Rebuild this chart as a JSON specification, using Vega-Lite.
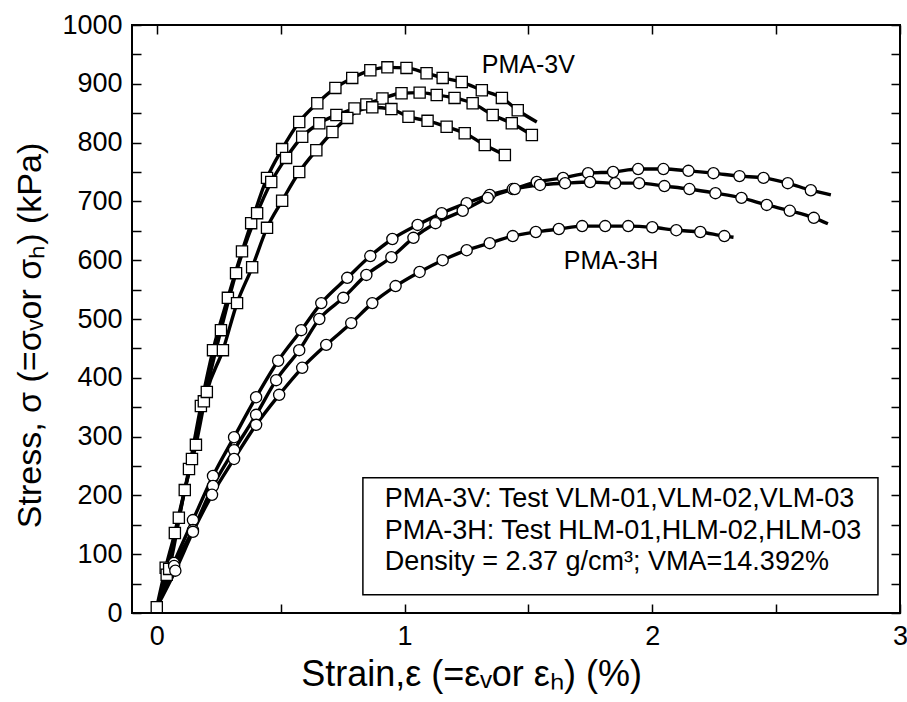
{
  "$schema": "https://vega.github.io/schema/vega-lite/v6.json",
  "width": 768,
  "height": 588,
  "autosize": "none",
  "padding": {"left": 132, "top": 25, "right": 7, "bottom": 89},
  "background": "white",
  "config": {
    "font": "Liberation Sans",
    "view": {"stroke": "black", "strokeWidth": 2},
    "axis": {
      "grid": false,
      "domain": false,
      "tickColor": "black",
      "tickWidth": 1.5,
      "tickSize": -9,
      "labelFontSize": 27,
      "labelColor": "black",
      "labelPadding": 19,
      "labelFlush": false,
      "titleFontSize": 33,
      "titleFontWeight": "normal",
      "titleColor": "black"
    }
  },
  "datasets": {
    "curves": [
      {"test": "VLM-01", "strain": 0, "stress": 10},
      {"test": "VLM-01", "strain": 0.036, "stress": 77},
      {"test": "VLM-01", "strain": 0.089, "stress": 162},
      {"test": "VLM-01", "strain": 0.13, "stress": 245},
      {"test": "VLM-01", "strain": 0.178, "stress": 352},
      {"test": "VLM-01", "strain": 0.227, "stress": 447},
      {"test": "VLM-01", "strain": 0.287, "stress": 536},
      {"test": "VLM-01", "strain": 0.344, "stress": 615},
      {"test": "VLM-01", "strain": 0.381, "stress": 663},
      {"test": "VLM-01", "strain": 0.445, "stress": 740},
      {"test": "VLM-01", "strain": 0.506, "stress": 789},
      {"test": "VLM-01", "strain": 0.575, "stress": 835},
      {"test": "VLM-01", "strain": 0.648, "stress": 867},
      {"test": "VLM-01", "strain": 0.721, "stress": 893},
      {"test": "VLM-01", "strain": 0.789, "stress": 910},
      {"test": "VLM-01", "strain": 0.862, "stress": 923},
      {"test": "VLM-01", "strain": 0.931, "stress": 928},
      {"test": "VLM-01", "strain": 1.008, "stress": 927},
      {"test": "VLM-01", "strain": 1.089, "stress": 918},
      {"test": "VLM-01", "strain": 1.154, "stress": 910},
      {"test": "VLM-01", "strain": 1.231, "stress": 903},
      {"test": "VLM-01", "strain": 1.312, "stress": 889},
      {"test": "VLM-01", "strain": 1.393, "stress": 876},
      {"test": "VLM-01", "strain": 1.457, "stress": 855},
      {"test": "VLM-01", "strain": 1.534, "stress": 835},
      {"test": "VLM-02", "strain": 0, "stress": 10},
      {"test": "VLM-02", "strain": 0.04, "stress": 65},
      {"test": "VLM-02", "strain": 0.073, "stress": 136},
      {"test": "VLM-02", "strain": 0.142, "stress": 262},
      {"test": "VLM-02", "strain": 0.19, "stress": 360},
      {"test": "VLM-02", "strain": 0.259, "stress": 481},
      {"test": "VLM-02", "strain": 0.32, "stress": 578},
      {"test": "VLM-02", "strain": 0.405, "stress": 680},
      {"test": "VLM-02", "strain": 0.462, "stress": 733},
      {"test": "VLM-02", "strain": 0.522, "stress": 774},
      {"test": "VLM-02", "strain": 0.587, "stress": 810},
      {"test": "VLM-02", "strain": 0.656, "stress": 833},
      {"test": "VLM-02", "strain": 0.725, "stress": 847},
      {"test": "VLM-02", "strain": 0.798, "stress": 858},
      {"test": "VLM-02", "strain": 0.846, "stress": 865},
      {"test": "VLM-02", "strain": 0.911, "stress": 875},
      {"test": "VLM-02", "strain": 0.988, "stress": 884},
      {"test": "VLM-02", "strain": 1.061, "stress": 885},
      {"test": "VLM-02", "strain": 1.13, "stress": 881},
      {"test": "VLM-02", "strain": 1.202, "stress": 876},
      {"test": "VLM-02", "strain": 1.275, "stress": 867},
      {"test": "VLM-02", "strain": 1.356, "stress": 847},
      {"test": "VLM-02", "strain": 1.433, "stress": 833},
      {"test": "VLM-02", "strain": 1.514, "stress": 813},
      {"test": "VLM-02", "strain": 1.535, "stress": 808},
      {"test": "VLM-03", "strain": 0, "stress": 10},
      {"test": "VLM-03", "strain": 0.05, "stress": 75},
      {"test": "VLM-03", "strain": 0.113, "stress": 209},
      {"test": "VLM-03", "strain": 0.158, "stress": 286},
      {"test": "VLM-03", "strain": 0.202, "stress": 376},
      {"test": "VLM-03", "strain": 0.267, "stress": 447},
      {"test": "VLM-03", "strain": 0.324, "stress": 527},
      {"test": "VLM-03", "strain": 0.385, "stress": 588},
      {"test": "VLM-03", "strain": 0.445, "stress": 655},
      {"test": "VLM-03", "strain": 0.506, "stress": 701},
      {"test": "VLM-03", "strain": 0.575, "stress": 750},
      {"test": "VLM-03", "strain": 0.644, "stress": 787},
      {"test": "VLM-03", "strain": 0.709, "stress": 818},
      {"test": "VLM-03", "strain": 0.769, "stress": 842},
      {"test": "VLM-03", "strain": 0.87, "stress": 860},
      {"test": "VLM-03", "strain": 0.947, "stress": 857},
      {"test": "VLM-03", "strain": 1.016, "stress": 844},
      {"test": "VLM-03", "strain": 1.093, "stress": 837},
      {"test": "VLM-03", "strain": 1.17, "stress": 827},
      {"test": "VLM-03", "strain": 1.243, "stress": 816},
      {"test": "VLM-03", "strain": 1.324, "stress": 796},
      {"test": "VLM-03", "strain": 1.405, "stress": 779},
      {"test": "HLM-01", "strain": 0, "stress": 10},
      {"test": "HLM-01", "strain": 0.069, "stress": 85},
      {"test": "HLM-01", "strain": 0.146, "stress": 158},
      {"test": "HLM-01", "strain": 0.227, "stress": 233},
      {"test": "HLM-01", "strain": 0.312, "stress": 299},
      {"test": "HLM-01", "strain": 0.401, "stress": 367},
      {"test": "HLM-01", "strain": 0.49, "stress": 429},
      {"test": "HLM-01", "strain": 0.583, "stress": 481},
      {"test": "HLM-01", "strain": 0.664, "stress": 527},
      {"test": "HLM-01", "strain": 0.769, "stress": 570},
      {"test": "HLM-01", "strain": 0.862, "stress": 607},
      {"test": "HLM-01", "strain": 0.951, "stress": 636},
      {"test": "HLM-01", "strain": 1.053, "stress": 660},
      {"test": "HLM-01", "strain": 1.15, "stress": 680},
      {"test": "HLM-01", "strain": 1.251, "stress": 697},
      {"test": "HLM-01", "strain": 1.344, "stress": 711},
      {"test": "HLM-01", "strain": 1.437, "stress": 721},
      {"test": "HLM-01", "strain": 1.534, "stress": 733},
      {"test": "HLM-01", "strain": 1.64, "stress": 740},
      {"test": "HLM-01", "strain": 1.741, "stress": 748},
      {"test": "HLM-01", "strain": 1.842, "stress": 750},
      {"test": "HLM-01", "strain": 1.943, "stress": 755},
      {"test": "HLM-01", "strain": 2.045, "stress": 755},
      {"test": "HLM-01", "strain": 2.146, "stress": 752},
      {"test": "HLM-01", "strain": 2.247, "stress": 748},
      {"test": "HLM-01", "strain": 2.352, "stress": 743},
      {"test": "HLM-01", "strain": 2.449, "stress": 740},
      {"test": "HLM-01", "strain": 2.547, "stress": 731},
      {"test": "HLM-01", "strain": 2.64, "stress": 719},
      {"test": "HLM-01", "strain": 2.721, "stress": 711},
      {"test": "HLM-02", "strain": 0, "stress": 10},
      {"test": "HLM-02", "strain": 0.07, "stress": 80},
      {"test": "HLM-02", "strain": 0.146, "stress": 141},
      {"test": "HLM-02", "strain": 0.227, "stress": 216},
      {"test": "HLM-02", "strain": 0.312, "stress": 277},
      {"test": "HLM-02", "strain": 0.401, "stress": 337},
      {"test": "HLM-02", "strain": 0.482, "stress": 396},
      {"test": "HLM-02", "strain": 0.575, "stress": 447},
      {"test": "HLM-02", "strain": 0.656, "stress": 500},
      {"test": "HLM-02", "strain": 0.753, "stress": 536},
      {"test": "HLM-02", "strain": 0.846, "stress": 575},
      {"test": "HLM-02", "strain": 0.947, "stress": 605},
      {"test": "HLM-02", "strain": 1.036, "stress": 638},
      {"test": "HLM-02", "strain": 1.125, "stress": 663},
      {"test": "HLM-02", "strain": 1.235, "stress": 684},
      {"test": "HLM-02", "strain": 1.336, "stress": 706},
      {"test": "HLM-02", "strain": 1.445, "stress": 721},
      {"test": "HLM-02", "strain": 1.547, "stress": 728},
      {"test": "HLM-02", "strain": 1.648, "stress": 731},
      {"test": "HLM-02", "strain": 1.749, "stress": 733},
      {"test": "HLM-02", "strain": 1.85, "stress": 731},
      {"test": "HLM-02", "strain": 1.947, "stress": 731},
      {"test": "HLM-02", "strain": 2.049, "stress": 726},
      {"test": "HLM-02", "strain": 2.15, "stress": 721},
      {"test": "HLM-02", "strain": 2.255, "stress": 714},
      {"test": "HLM-02", "strain": 2.36, "stress": 706},
      {"test": "HLM-02", "strain": 2.462, "stress": 694},
      {"test": "HLM-02", "strain": 2.555, "stress": 684},
      {"test": "HLM-02", "strain": 2.652, "stress": 672},
      {"test": "HLM-02", "strain": 2.709, "stress": 662},
      {"test": "HLM-03", "strain": 0, "stress": 10},
      {"test": "HLM-03", "strain": 0.075, "stress": 72},
      {"test": "HLM-03", "strain": 0.146, "stress": 138},
      {"test": "HLM-03", "strain": 0.223, "stress": 201},
      {"test": "HLM-03", "strain": 0.312, "stress": 262},
      {"test": "HLM-03", "strain": 0.401, "stress": 320},
      {"test": "HLM-03", "strain": 0.494, "stress": 371},
      {"test": "HLM-03", "strain": 0.587, "stress": 417},
      {"test": "HLM-03", "strain": 0.684, "stress": 456},
      {"test": "HLM-03", "strain": 0.785, "stress": 493},
      {"test": "HLM-03", "strain": 0.87, "stress": 527},
      {"test": "HLM-03", "strain": 0.964, "stress": 556},
      {"test": "HLM-03", "strain": 1.061, "stress": 580},
      {"test": "HLM-03", "strain": 1.154, "stress": 600},
      {"test": "HLM-03", "strain": 1.251, "stress": 617},
      {"test": "HLM-03", "strain": 1.344, "stress": 629},
      {"test": "HLM-03", "strain": 1.437, "stress": 641},
      {"test": "HLM-03", "strain": 1.53, "stress": 648},
      {"test": "HLM-03", "strain": 1.623, "stress": 653},
      {"test": "HLM-03", "strain": 1.717, "stress": 658},
      {"test": "HLM-03", "strain": 1.81, "stress": 658},
      {"test": "HLM-03", "strain": 1.903, "stress": 658},
      {"test": "HLM-03", "strain": 2.0, "stress": 656},
      {"test": "HLM-03", "strain": 2.097, "stress": 651},
      {"test": "HLM-03", "strain": 2.194, "stress": 648},
      {"test": "HLM-03", "strain": 2.291, "stress": 641},
      {"test": "HLM-03", "strain": 2.328, "stress": 639}
    ],
    "markers": [
      {"specimen": "PMA-3V", "test": "VLM-01", "strain": 0, "stress": 10},
      {"specimen": "PMA-3V", "test": "VLM-01", "strain": 0.036, "stress": 77},
      {"specimen": "PMA-3V", "test": "VLM-01", "strain": 0.089, "stress": 162},
      {"specimen": "PMA-3V", "test": "VLM-01", "strain": 0.13, "stress": 245},
      {"specimen": "PMA-3V", "test": "VLM-01", "strain": 0.178, "stress": 352},
      {"specimen": "PMA-3V", "test": "VLM-01", "strain": 0.227, "stress": 447},
      {"specimen": "PMA-3V", "test": "VLM-01", "strain": 0.287, "stress": 536},
      {"specimen": "PMA-3V", "test": "VLM-01", "strain": 0.344, "stress": 615},
      {"specimen": "PMA-3V", "test": "VLM-01", "strain": 0.381, "stress": 663},
      {"specimen": "PMA-3V", "test": "VLM-01", "strain": 0.445, "stress": 740},
      {"specimen": "PMA-3V", "test": "VLM-01", "strain": 0.506, "stress": 789},
      {"specimen": "PMA-3V", "test": "VLM-01", "strain": 0.575, "stress": 835},
      {"specimen": "PMA-3V", "test": "VLM-01", "strain": 0.648, "stress": 867},
      {"specimen": "PMA-3V", "test": "VLM-01", "strain": 0.721, "stress": 893},
      {"specimen": "PMA-3V", "test": "VLM-01", "strain": 0.789, "stress": 910},
      {"specimen": "PMA-3V", "test": "VLM-01", "strain": 0.862, "stress": 923},
      {"specimen": "PMA-3V", "test": "VLM-01", "strain": 0.931, "stress": 928},
      {"specimen": "PMA-3V", "test": "VLM-01", "strain": 1.008, "stress": 927},
      {"specimen": "PMA-3V", "test": "VLM-01", "strain": 1.089, "stress": 918},
      {"specimen": "PMA-3V", "test": "VLM-01", "strain": 1.154, "stress": 910},
      {"specimen": "PMA-3V", "test": "VLM-01", "strain": 1.231, "stress": 903},
      {"specimen": "PMA-3V", "test": "VLM-01", "strain": 1.312, "stress": 889},
      {"specimen": "PMA-3V", "test": "VLM-01", "strain": 1.393, "stress": 876},
      {"specimen": "PMA-3V", "test": "VLM-01", "strain": 1.457, "stress": 855},
      {"specimen": "PMA-3V", "test": "VLM-02", "strain": 0.04, "stress": 65},
      {"specimen": "PMA-3V", "test": "VLM-02", "strain": 0.073, "stress": 136},
      {"specimen": "PMA-3V", "test": "VLM-02", "strain": 0.142, "stress": 262},
      {"specimen": "PMA-3V", "test": "VLM-02", "strain": 0.19, "stress": 360},
      {"specimen": "PMA-3V", "test": "VLM-02", "strain": 0.259, "stress": 481},
      {"specimen": "PMA-3V", "test": "VLM-02", "strain": 0.32, "stress": 578},
      {"specimen": "PMA-3V", "test": "VLM-02", "strain": 0.405, "stress": 680},
      {"specimen": "PMA-3V", "test": "VLM-02", "strain": 0.462, "stress": 733},
      {"specimen": "PMA-3V", "test": "VLM-02", "strain": 0.522, "stress": 774},
      {"specimen": "PMA-3V", "test": "VLM-02", "strain": 0.587, "stress": 810},
      {"specimen": "PMA-3V", "test": "VLM-02", "strain": 0.656, "stress": 833},
      {"specimen": "PMA-3V", "test": "VLM-02", "strain": 0.725, "stress": 847},
      {"specimen": "PMA-3V", "test": "VLM-02", "strain": 0.798, "stress": 858},
      {"specimen": "PMA-3V", "test": "VLM-02", "strain": 0.846, "stress": 865},
      {"specimen": "PMA-3V", "test": "VLM-02", "strain": 0.911, "stress": 875},
      {"specimen": "PMA-3V", "test": "VLM-02", "strain": 0.988, "stress": 884},
      {"specimen": "PMA-3V", "test": "VLM-02", "strain": 1.061, "stress": 885},
      {"specimen": "PMA-3V", "test": "VLM-02", "strain": 1.13, "stress": 881},
      {"specimen": "PMA-3V", "test": "VLM-02", "strain": 1.202, "stress": 876},
      {"specimen": "PMA-3V", "test": "VLM-02", "strain": 1.275, "stress": 867},
      {"specimen": "PMA-3V", "test": "VLM-02", "strain": 1.356, "stress": 847},
      {"specimen": "PMA-3V", "test": "VLM-02", "strain": 1.433, "stress": 833},
      {"specimen": "PMA-3V", "test": "VLM-02", "strain": 1.514, "stress": 813},
      {"specimen": "PMA-3V", "test": "VLM-03", "strain": 0.05, "stress": 75},
      {"specimen": "PMA-3V", "test": "VLM-03", "strain": 0.113, "stress": 209},
      {"specimen": "PMA-3V", "test": "VLM-03", "strain": 0.158, "stress": 286},
      {"specimen": "PMA-3V", "test": "VLM-03", "strain": 0.202, "stress": 376},
      {"specimen": "PMA-3V", "test": "VLM-03", "strain": 0.267, "stress": 447},
      {"specimen": "PMA-3V", "test": "VLM-03", "strain": 0.324, "stress": 527},
      {"specimen": "PMA-3V", "test": "VLM-03", "strain": 0.385, "stress": 588},
      {"specimen": "PMA-3V", "test": "VLM-03", "strain": 0.445, "stress": 655},
      {"specimen": "PMA-3V", "test": "VLM-03", "strain": 0.506, "stress": 701},
      {"specimen": "PMA-3V", "test": "VLM-03", "strain": 0.575, "stress": 750},
      {"specimen": "PMA-3V", "test": "VLM-03", "strain": 0.644, "stress": 787},
      {"specimen": "PMA-3V", "test": "VLM-03", "strain": 0.709, "stress": 818},
      {"specimen": "PMA-3V", "test": "VLM-03", "strain": 0.769, "stress": 842},
      {"specimen": "PMA-3V", "test": "VLM-03", "strain": 0.87, "stress": 860},
      {"specimen": "PMA-3V", "test": "VLM-03", "strain": 0.947, "stress": 857},
      {"specimen": "PMA-3V", "test": "VLM-03", "strain": 1.016, "stress": 844},
      {"specimen": "PMA-3V", "test": "VLM-03", "strain": 1.093, "stress": 837},
      {"specimen": "PMA-3V", "test": "VLM-03", "strain": 1.17, "stress": 827},
      {"specimen": "PMA-3V", "test": "VLM-03", "strain": 1.243, "stress": 816},
      {"specimen": "PMA-3V", "test": "VLM-03", "strain": 1.324, "stress": 796},
      {"specimen": "PMA-3V", "test": "VLM-03", "strain": 1.405, "stress": 779},
      {"specimen": "PMA-3H", "test": "HLM-01", "strain": 0.069, "stress": 85},
      {"specimen": "PMA-3H", "test": "HLM-01", "strain": 0.146, "stress": 158},
      {"specimen": "PMA-3H", "test": "HLM-01", "strain": 0.227, "stress": 233},
      {"specimen": "PMA-3H", "test": "HLM-01", "strain": 0.312, "stress": 299},
      {"specimen": "PMA-3H", "test": "HLM-01", "strain": 0.401, "stress": 367},
      {"specimen": "PMA-3H", "test": "HLM-01", "strain": 0.49, "stress": 429},
      {"specimen": "PMA-3H", "test": "HLM-01", "strain": 0.583, "stress": 481},
      {"specimen": "PMA-3H", "test": "HLM-01", "strain": 0.664, "stress": 527},
      {"specimen": "PMA-3H", "test": "HLM-01", "strain": 0.769, "stress": 570},
      {"specimen": "PMA-3H", "test": "HLM-01", "strain": 0.862, "stress": 607},
      {"specimen": "PMA-3H", "test": "HLM-01", "strain": 0.951, "stress": 636},
      {"specimen": "PMA-3H", "test": "HLM-01", "strain": 1.053, "stress": 660},
      {"specimen": "PMA-3H", "test": "HLM-01", "strain": 1.15, "stress": 680},
      {"specimen": "PMA-3H", "test": "HLM-01", "strain": 1.251, "stress": 697},
      {"specimen": "PMA-3H", "test": "HLM-01", "strain": 1.344, "stress": 711},
      {"specimen": "PMA-3H", "test": "HLM-01", "strain": 1.437, "stress": 721},
      {"specimen": "PMA-3H", "test": "HLM-01", "strain": 1.534, "stress": 733},
      {"specimen": "PMA-3H", "test": "HLM-01", "strain": 1.64, "stress": 740},
      {"specimen": "PMA-3H", "test": "HLM-01", "strain": 1.741, "stress": 748},
      {"specimen": "PMA-3H", "test": "HLM-01", "strain": 1.842, "stress": 750},
      {"specimen": "PMA-3H", "test": "HLM-01", "strain": 1.943, "stress": 755},
      {"specimen": "PMA-3H", "test": "HLM-01", "strain": 2.045, "stress": 755},
      {"specimen": "PMA-3H", "test": "HLM-01", "strain": 2.146, "stress": 752},
      {"specimen": "PMA-3H", "test": "HLM-01", "strain": 2.247, "stress": 748},
      {"specimen": "PMA-3H", "test": "HLM-01", "strain": 2.352, "stress": 743},
      {"specimen": "PMA-3H", "test": "HLM-01", "strain": 2.449, "stress": 740},
      {"specimen": "PMA-3H", "test": "HLM-01", "strain": 2.547, "stress": 731},
      {"specimen": "PMA-3H", "test": "HLM-01", "strain": 2.64, "stress": 719},
      {"specimen": "PMA-3H", "test": "HLM-02", "strain": 0.07, "stress": 80},
      {"specimen": "PMA-3H", "test": "HLM-02", "strain": 0.146, "stress": 141},
      {"specimen": "PMA-3H", "test": "HLM-02", "strain": 0.227, "stress": 216},
      {"specimen": "PMA-3H", "test": "HLM-02", "strain": 0.312, "stress": 277},
      {"specimen": "PMA-3H", "test": "HLM-02", "strain": 0.401, "stress": 337},
      {"specimen": "PMA-3H", "test": "HLM-02", "strain": 0.482, "stress": 396},
      {"specimen": "PMA-3H", "test": "HLM-02", "strain": 0.575, "stress": 447},
      {"specimen": "PMA-3H", "test": "HLM-02", "strain": 0.656, "stress": 500},
      {"specimen": "PMA-3H", "test": "HLM-02", "strain": 0.753, "stress": 536},
      {"specimen": "PMA-3H", "test": "HLM-02", "strain": 0.846, "stress": 575},
      {"specimen": "PMA-3H", "test": "HLM-02", "strain": 0.947, "stress": 605},
      {"specimen": "PMA-3H", "test": "HLM-02", "strain": 1.036, "stress": 638},
      {"specimen": "PMA-3H", "test": "HLM-02", "strain": 1.125, "stress": 663},
      {"specimen": "PMA-3H", "test": "HLM-02", "strain": 1.235, "stress": 684},
      {"specimen": "PMA-3H", "test": "HLM-02", "strain": 1.336, "stress": 706},
      {"specimen": "PMA-3H", "test": "HLM-02", "strain": 1.445, "stress": 721},
      {"specimen": "PMA-3H", "test": "HLM-02", "strain": 1.547, "stress": 728},
      {"specimen": "PMA-3H", "test": "HLM-02", "strain": 1.648, "stress": 731},
      {"specimen": "PMA-3H", "test": "HLM-02", "strain": 1.749, "stress": 733},
      {"specimen": "PMA-3H", "test": "HLM-02", "strain": 1.85, "stress": 731},
      {"specimen": "PMA-3H", "test": "HLM-02", "strain": 1.947, "stress": 731},
      {"specimen": "PMA-3H", "test": "HLM-02", "strain": 2.049, "stress": 726},
      {"specimen": "PMA-3H", "test": "HLM-02", "strain": 2.15, "stress": 721},
      {"specimen": "PMA-3H", "test": "HLM-02", "strain": 2.255, "stress": 714},
      {"specimen": "PMA-3H", "test": "HLM-02", "strain": 2.36, "stress": 706},
      {"specimen": "PMA-3H", "test": "HLM-02", "strain": 2.462, "stress": 694},
      {"specimen": "PMA-3H", "test": "HLM-02", "strain": 2.555, "stress": 684},
      {"specimen": "PMA-3H", "test": "HLM-02", "strain": 2.652, "stress": 672},
      {"specimen": "PMA-3H", "test": "HLM-03", "strain": 0.075, "stress": 72},
      {"specimen": "PMA-3H", "test": "HLM-03", "strain": 0.146, "stress": 138},
      {"specimen": "PMA-3H", "test": "HLM-03", "strain": 0.223, "stress": 201},
      {"specimen": "PMA-3H", "test": "HLM-03", "strain": 0.312, "stress": 262},
      {"specimen": "PMA-3H", "test": "HLM-03", "strain": 0.401, "stress": 320},
      {"specimen": "PMA-3H", "test": "HLM-03", "strain": 0.494, "stress": 371},
      {"specimen": "PMA-3H", "test": "HLM-03", "strain": 0.587, "stress": 417},
      {"specimen": "PMA-3H", "test": "HLM-03", "strain": 0.684, "stress": 456},
      {"specimen": "PMA-3H", "test": "HLM-03", "strain": 0.785, "stress": 493},
      {"specimen": "PMA-3H", "test": "HLM-03", "strain": 0.87, "stress": 527},
      {"specimen": "PMA-3H", "test": "HLM-03", "strain": 0.964, "stress": 556},
      {"specimen": "PMA-3H", "test": "HLM-03", "strain": 1.061, "stress": 580},
      {"specimen": "PMA-3H", "test": "HLM-03", "strain": 1.154, "stress": 600},
      {"specimen": "PMA-3H", "test": "HLM-03", "strain": 1.251, "stress": 617},
      {"specimen": "PMA-3H", "test": "HLM-03", "strain": 1.344, "stress": 629},
      {"specimen": "PMA-3H", "test": "HLM-03", "strain": 1.437, "stress": 641},
      {"specimen": "PMA-3H", "test": "HLM-03", "strain": 1.53, "stress": 648},
      {"specimen": "PMA-3H", "test": "HLM-03", "strain": 1.623, "stress": 653},
      {"specimen": "PMA-3H", "test": "HLM-03", "strain": 1.717, "stress": 658},
      {"specimen": "PMA-3H", "test": "HLM-03", "strain": 1.81, "stress": 658},
      {"specimen": "PMA-3H", "test": "HLM-03", "strain": 1.903, "stress": 658},
      {"specimen": "PMA-3H", "test": "HLM-03", "strain": 2.0, "stress": 656},
      {"specimen": "PMA-3H", "test": "HLM-03", "strain": 2.097, "stress": 651},
      {"specimen": "PMA-3H", "test": "HLM-03", "strain": 2.194, "stress": 648},
      {"specimen": "PMA-3H", "test": "HLM-03", "strain": 2.291, "stress": 641}
    ],
    "annotations": [
      {"label": "PMA-3V", "strain": 1.312, "stress": 918},
      {"label": "PMA-3H", "strain": 1.643, "stress": 585}
    ],
    "notes": [
      {"label": "PMA-3V: Test VLM-01,VLM-02,VLM-03", "strain": 0.92, "stress": 180},
      {"label": "PMA-3H: Test HLM-01,HLM-02,HLM-03", "strain": 0.92, "stress": 126},
      {"label": "Density = 2.37 g/cm³; VMA=14.392%", "strain": 0.92, "stress": 73}
    ],
    "box": [
      {"x1": 0.832, "x2": 2.911, "y1": 31, "y2": 230}
    ]
  },
  "layer": [
    {
      "data": {"name": "box"},
      "mark": {"type": "rect", "fill": null, "stroke": "black", "strokeWidth": 1.5},
      "encoding": {
        "x": {"field": "x1", "type": "quantitative", "scale": {"domain": [-0.1, 3], "nice": false, "zero": false},
          "axis": {
            "orient": "bottom",
            "values": [0, 0.5, 1, 1.5, 2, 2.5, 3],
            "labelExpr": "datum.value % 1 === 0 ? datum.label : ''",
            "format": "~g",
            "title": "Strain,ε (=εᵥor εₕ) (%)",
            "titleFontSize": 36,
            "titleX": 339,
            "titleAlign": "center",
            "titlePadding": 8
          }
        },
        "x2": {"field": "x2"},
        "y": {"field": "y1", "type": "quantitative", "scale": {"domain": [0, 1000], "nice": false},
          "axis": {
            "orient": "left",
            "values": [0, 50, 100, 150, 200, 250, 300, 350, 400, 450, 500, 550, 600, 650, 700, 750, 800, 850, 900, 950, 1000],
            "labelExpr": "datum.value % 100 === 0 ? datum.label : ''",
            "format": "d",
            "title": "Stress, σ (=σᵥor σₕ) (kPa)",
            "titleFontSize": 34,
            "titleY": 310,
            "titleAlign": "center",
            "titlePadding": 14
          }
        },
        "y2": {"field": "y2"}
      }
    },
    {
      "data": {"name": "curves"},
      "mark": {"type": "line", "color": "black", "strokeWidth": 3.4, "interpolate": "monotone"},
      "encoding": {
        "x": {"field": "strain", "type": "quantitative",
          "axis": {"orient": "top", "values": [0, 0.5, 1, 1.5, 2, 2.5, 3], "labels": false, "title": null}},
        "y": {"field": "stress", "type": "quantitative",
          "axis": {"orient": "right", "values": [0, 50, 100, 150, 200, 250, 300, 350, 400, 450, 500, 550, 600, 650, 700, 750, 800, 850, 900, 950, 1000], "labels": false, "title": null}},
        "detail": {"field": "test", "type": "nominal"},
        "order": {"field": "strain", "type": "quantitative"}
      }
    },
    {
      "data": {"name": "markers"},
      "mark": {"type": "point", "filled": true, "fill": "white", "stroke": "black", "strokeWidth": 1.3, "size": 125, "opacity": 1},
      "encoding": {
        "x": {"field": "strain", "type": "quantitative", "axis": null},
        "y": {"field": "stress", "type": "quantitative", "axis": null},
        "shape": {"field": "specimen", "type": "nominal", "scale": {"domain": ["PMA-3V", "PMA-3H"], "range": ["square", "circle"]}, "legend": null}
      }
    },
    {
      "data": {"name": "annotations"},
      "mark": {"type": "text", "align": "left", "baseline": "alphabetic", "fontSize": 25, "color": "black"},
      "encoding": {
        "x": {"field": "strain", "type": "quantitative", "axis": null},
        "y": {"field": "stress", "type": "quantitative", "axis": null},
        "text": {"field": "label"}
      }
    },
    {
      "data": {"name": "notes"},
      "mark": {"type": "text", "align": "left", "baseline": "alphabetic", "fontSize": 27, "color": "black"},
      "encoding": {
        "x": {"field": "strain", "type": "quantitative", "axis": null},
        "y": {"field": "stress", "type": "quantitative", "axis": null},
        "text": {"field": "label"}
      }
    }
  ],
  "resolve": {"axis": {"x": "independent", "y": "independent"}}
}
